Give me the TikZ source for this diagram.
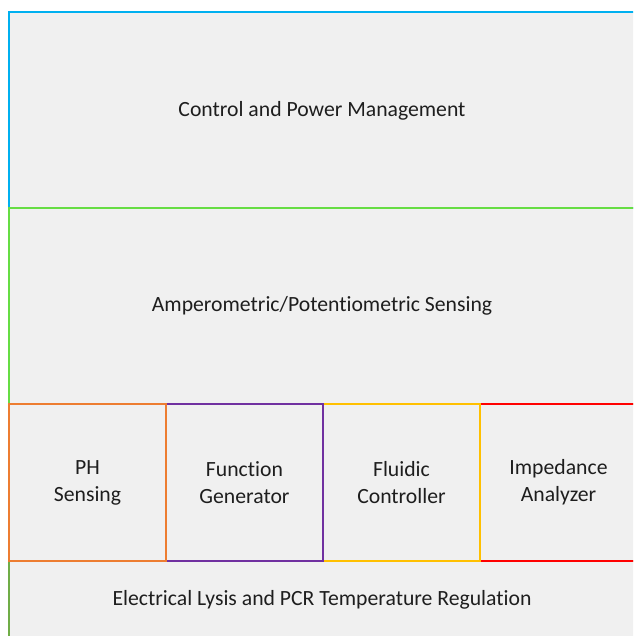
\documentclass[tikz,border=0pt]{standalone}
\usepackage{fontspec}
\setmainfont{Carlito}[Ligatures=NoCommon]
\usepackage{tikz}
\usetikzlibrary{positioning}

\definecolor{bleu}{HTML}{00B0F0}
\definecolor{vert}{HTML}{66DD44}
\definecolor{vertclair}{HTML}{70AD47}
\definecolor{orange}{HTML}{ED7D31}
\definecolor{violet}{HTML}{7030A0}
\definecolor{jaune}{HTML}{FFC000}
\definecolor{rouge}{HTML}{FF0000}
\definecolor{fond}{HTML}{F0F0F0}
\definecolor{texte}{HTML}{1E1E1E}

\begin{document}
\begin{tikzpicture}[x=1pt,y=-1pt]
          %% LAYERS

          \tikzstyle{every node}=[rectangle,fill=fond,line width=2pt,inner sep=0pt,outer sep=0pt,anchor=north west,
                                  text=texte,align=center,font=\fontsize{21.7}{27}\selectfont]
          \tikzstyle{layer}=[minimum width=626pt,minimum height=196pt]
          \tikzstyle{block}=[minimum width=157pt,minimum height=157pt]

          \useasboundingbox (0,0) rectangle (633,636);
          \clip (0,0) rectangle (633,636);

          % couches du haut
          \node[layer,draw=bleu] (CPM) at (9,12.5) {Control and Power Management};
          \node[layer,draw=vert] (APS) at (9,208) {Amperometric/Potentiometric Sensing};

          % couche du bas
          \node[draw=vertclair,minimum width=626pt,minimum height=77pt] (ELP) at (9,561)
                {Electrical Lysis and PCR Temperature Regulation};

          % blocs du milieu
          \node[block,draw=rouge] (IA) at (480,404) {Impedance\\Analyzer};
          \node[block,draw=jaune] (FC) at (323,404) {Fluidic\\Controller};
          \node[block,draw=violet] (FG) at (166,404) {Function\\Generator};
          \node[block,draw=orange] (PH) at (9,404) {PH\\Sensing};
\end{tikzpicture}
\end{document}
